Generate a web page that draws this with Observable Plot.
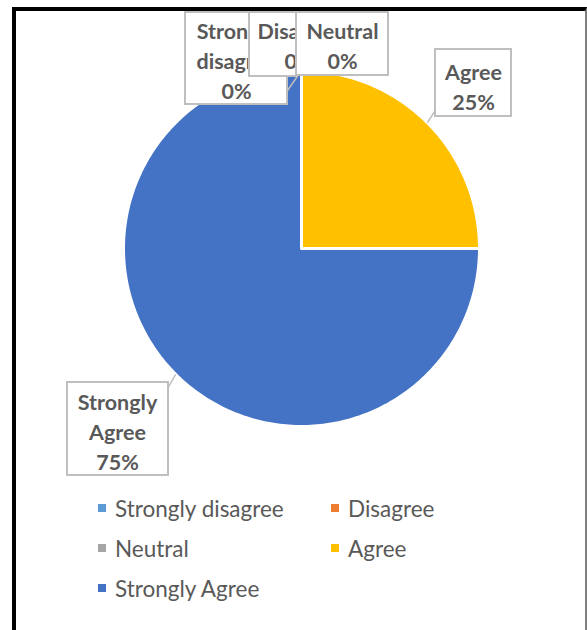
<!DOCTYPE html>
<html>
<head>
<meta charset="utf-8">
<script src="https://cdn.jsdelivr.net/npm/d3@7"></script>
<script src="https://cdn.jsdelivr.net/npm/@observablehq/plot@0.6"></script>
<style>
  html, body { margin: 0; padding: 0; background: #fff; overflow: hidden; }
  #wrap { position: relative; width: 587px; height: 630px; font-family: Lato, "Open Sans", sans-serif; }
  #frame { position: absolute; left: 12px; top: 7px; width: 569px; height: 700px;
           border-left: 4px solid #000; border-top: 4px solid #000; border-right: 2px solid #7f7f7f;
           pointer-events: none; }
  #legend { position: relative; height: 140px; }
  .item { position: absolute; display: flex; align-items: center; font-size: 22.5px; color: #595959; height: 40px; }
  .sw { width: 8px; height: 8px; margin-right: 9px; }
</style>
</head>
<body>
<div id="wrap"><div id="chart"></div><div id="legend"></div><div id="frame"></div></div>
<script>
// ---- data ----
const categories = ["Strongly disagree", "Disagree", "Neutral", "Agree", "Strongly Agree"];
const values = [0, 0, 0, 25, 75];
const colors = ["#5B9BD5", "#ED7D31", "#A5A5A5", "#FFC000", "#4472C4"];

// ---- layout (pixels) ----
const W = 587, H = 490, CX = 301, CY = 248, R = 178;
const labelBoxes = [
  {box: [185, 12, 287, 104], text: [236, 59], leader: [287, 90]},
  {box: [249, 12, 296, 76],  text: [299, 44], leader: null},
  {box: [296, 12, 388, 75],  text: [342, 44], leader: null},
  {box: [435, 49, 511, 116], text: [473, 85], leader: [436, 108]},
  {box: [67, 382, 168, 475], text: [117, 430], leader: [166, 390]}
];
const legendCols = [98, 331], legendRowTop = -2, legendRowH = 40;

const ix = p => (p - CX) / R, iy = p => (CY - p) / R;
const total = d3.sum(values);
const data = categories.map((c, i) => ({cat: c, value: values[i]}));
const arcs = d3.pie().sort(null).value(d => d.value)(data);

const slicePts = arcs.filter(a => a.endAngle > a.startAngle).flatMap(a => {
  const n = Math.max(2, Math.ceil((a.endAngle - a.startAngle) / (Math.PI / 180)));
  const pts = [{cat: a.data.cat, x: 0, y: 0}];
  for (let i = 0; i <= n; i++) {
    const ang = a.startAngle + (a.endAngle - a.startAngle) * i / n;
    pts.push({cat: a.data.cat, x: Math.sin(ang), y: Math.cos(ang)});
  }
  return pts;
});

const labels = arcs.map((a, i) => {
  const mid = (a.startAngle + a.endAngle) / 2;
  const L = labelBoxes[i];
  return {
    cat: a.data.cat,
    text: a.data.cat.replace(" ", "\n") + "\n" + Math.round(a.data.value / total * 100) + "%",
    ax: Math.sin(mid), ay: Math.cos(mid),
    bx1: ix(L.box[0]), by1: iy(L.box[1]), bx2: ix(L.box[2]), by2: iy(L.box[3]),
    tx: ix(L.text[0]), ty: iy(L.text[1]),
    lx: L.leader ? ix(L.leader[0]) : null, ly: L.leader ? iy(L.leader[1]) : null
  };
});

const labelMarks = labels.flatMap(l => [
  ...(l.lx !== null ? [Plot.link([l], {x1: "lx", y1: "ly", x2: "ax", y2: "ay", stroke: "#BFBFBF", strokeWidth: 1.5})] : []),
  Plot.rect([l], {x1: "bx1", x2: "bx2", y1: "by1", y2: "by2", fill: "white", stroke: "#BFBFBF", strokeWidth: 2}),
  Plot.text([l], {x: "tx", y: "ty", text: "text", fontSize: 21.5, fontWeight: "bold", fill: "#595959", lineHeight: 1.38})
]);

const chart = Plot.plot({
  width: W, height: H, margin: 0,
  style: {fontFamily: "Lato, 'Open Sans', sans-serif", background: "transparent"},
  x: {domain: [ix(0), ix(W)], axis: null},
  y: {domain: [iy(H), iy(0)], axis: null},
  color: {domain: categories, range: colors},
  marks: [
    Plot.line(slicePts, {x: "x", y: "y", z: "cat", fill: "cat", stroke: "white", strokeWidth: 3, curve: "linear-closed"}),
    ...labelMarks
  ]
});
document.getElementById("chart").appendChild(chart);

// legend
const legend = document.getElementById("legend");
categories.forEach((c, i) => {
  const el = document.createElement("div");
  el.className = "item";
  el.style.left = legendCols[i % 2] + "px";
  el.style.top = (legendRowTop + Math.floor(i / 2) * legendRowH) + "px";
  el.innerHTML = `<span class="sw" style="background:${colors[i]}"></span><span>${c}</span>`;
  legend.appendChild(el);
});
</script>
</body>
</html>
